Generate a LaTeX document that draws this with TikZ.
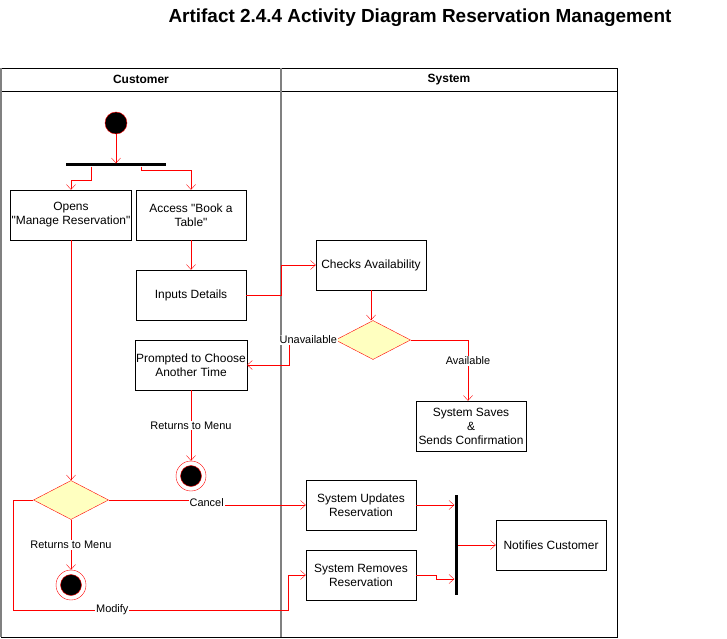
\documentclass[tikz,border=0pt]{standalone}
\usepackage{fontspec}
\setmainfont{Liberation Sans}
\newfontfamily\plainfont{Liberation Sans}
\usetikzlibrary{positioning, shapes.geometric, arrows.meta}

\definecolor{choicefill}{HTML}{FFFFC0}

\begin{document}
\begin{tikzpicture}[x=1bp, y=-1bp,
    action/.style={rectangle, draw, minimum width=110bp, minimum height=50bp, inner sep=1bp, align=center, font=\plainfont\fontsize{12}{14}\selectfont},
    choice/.style={diamond, draw=red, fill=choicefill, minimum width=75bp, minimum height=39bp, inner sep=0pt},
    initial/.style={circle, draw=red, fill=black, minimum size=22bp, inner sep=0pt},
    final/.style={circle, draw=red, fill=white, minimum size=30bp, inner sep=0pt,
        path picture={\filldraw[draw=red, fill=black] (path picture bounding box.center) circle (10.5bp);}},
    bar/.style={rectangle, fill=black, inner sep=0pt},
    flow/.style={draw=red, -{Straight Barb[length=5bp, width=9bp]}},
    guard/.style={fill=white, inner sep=1bp, font=\plainfont\fontsize{11}{13}\selectfont},
    lane/.style={font=\plainfont\bfseries\fontsize{12}{14}\selectfont},
    title/.style={font=\plainfont\bfseries\fontsize{19}{22}\selectfont},
]
\useasboundingbox (0,0) rectangle (727,639);

% Title and swimlanes
\node[title] (heading) at (420,18) {Artifact 2.4.4 Activity Diagram Reservation Management};

\draw (1,68) -- (617,68) -- (617,637) -- (1,637);
\draw (1,91) -- (617,91);
\draw[gray, line width=1.5bp] (1,68) -- (1,637);
\draw[gray, line width=1.5bp] (281,68) -- (281,637);
\node[lane] (customer) at (141,79.5) {Customer};
\node[lane] (system) at (449,79.5) {System};

% Customer lane
\node[initial] (start) at (116,123) {};
\node[bar, minimum width=100bp, minimum height=3bp] (fork) at (116,165) {};
\node[action] (opens) at (71,215) {Opens\\"Manage Reservation"};
\node[action] (access) at (191,215) {Access "Book a\\Table"};
\node[action] (inputs) at (191,295) {Inputs Details};
\node[action] (prompt) at (191,365) {Prompted to Choose\\Another Time};
\node[final] (end1) at (191,476) {};
\node[choice] (edit) at (71,500) {};
\node[final] (end2) at (71,585) {};

% System lane
\node[action] (checks) at (371,265) {Checks Availability};
\node[choice] (avail) at (373,340) {};
\node[action] (saves) at (471,426) {System Saves\\\&\\Sends Confirmation};
\node[action] (update) at (361,505) {System Updates\\Reservation};
\node[action] (remove) at (361,575) {System Removes\\Reservation};
\node[bar, minimum width=3bp, minimum height=100bp] (join) at (456,545) {};
\node[action] (notify) at (551,545) {Notifies Customer};

% Flows
\draw[flow] (start) -- (start |- fork.north);
\draw[flow] ([xshift=-25bp]fork.south) -- ++(0,14) -| (opens.north);
\draw[flow] ([xshift=25bp]fork.south) -- ++(0,4) -| (access.north);
\draw[flow] (access) -- (inputs);
\draw[flow] (inputs.east) -- ++(35,0) |- (checks.west);
\draw[flow] (checks) -- (checks |- avail.north);
\draw[flow] (avail.west) -- node[guard, xshift=-4bp] {Unavailable} ++(-46,0) |- (prompt.east);
\draw[flow] (avail.east) -| node[guard, pos=0.67] {Available} ([xshift=-3bp]saves.north);
\draw[flow] (prompt) -- node[guard] {Returns to Menu} (end1);
\draw[flow] (opens) -- (edit);
\draw[flow] (edit) -- node[guard] {Returns to Menu} (end2);
\draw[flow] (edit.east) -- node[guard, pos=1, yshift=-3bp] {Cancel} ++(98,0) |- (update.west);
\draw[flow] (edit.west) -- ++(-20,0) -- ++(0,110) -- node[guard, pos=0.36] {Modify} ++(275,0) |- (remove.west);
\draw[flow] (update.east) -- (update.east -| join.west);
\draw[flow] (remove.east) -- ++(20,0) |- ([yshift=-4bp]remove.east -| join.west);
\draw[flow] (join.east) -- (notify.west);

\end{tikzpicture}
\end{document}
